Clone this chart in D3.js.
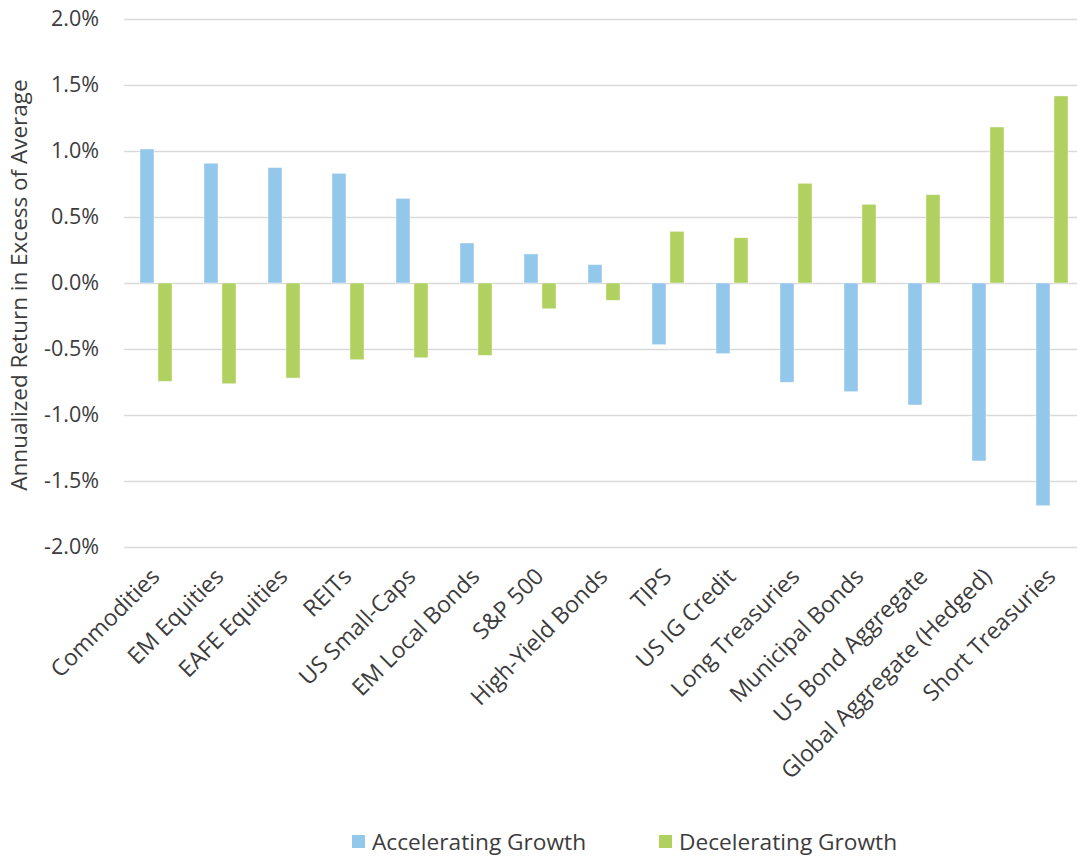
<!DOCTYPE html>
<html>
<head>
<meta charset="utf-8">
<script src="https://cdn.jsdelivr.net/npm/d3@7/dist/d3.min.js"></script>
<style>
  html, body { margin: 0; padding: 0; background: #ffffff; }
  svg { display: block; font-family: "Open Sans", "Noto Sans", sans-serif; }
</style>
</head>
<body>
<svg id="chart" width="1077" height="857"></svg>
<script>
const categories = ["Commodities", "EM Equities", "EAFE Equities", "REITs", "US Small-Caps",
  "EM Local Bonds", "S&P 500", "High-Yield Bonds", "TIPS", "US IG Credit", "Long Treasuries",
  "Municipal Bonds", "US Bond Aggregate", "Global Aggregate (Hedged)", "Short Treasuries"];
const seriesNames = ["Accelerating Growth", "Decelerating Growth"];
const acceleratingGrowth = [1.015, 0.907, 0.874, 0.831, 0.641, 0.303, 0.220, 0.139,
  -0.467, -0.535, -0.752, -0.823, -0.924, -1.348, -1.687];
const deceleratingGrowth = [-0.745, -0.763, -0.720, -0.581, -0.566, -0.548, -0.195, -0.131,
  0.391, 0.343, 0.755, 0.596, 0.669, 1.182, 1.417];
const yTicks = [-2.0, -1.5, -1.0, -0.5, 0.0, 0.5, 1.0, 1.5, 2.0];
const yTitle = "Annualized Return in Excess of Average";

const colors = ["#93c7eb", "#b0d15f"];
const textColor = "#3c3c3c";
const gridColor = "#d9d9d9";

const svg = d3.select("#chart");
const plot = { left: 124, right: 1084, top: 19, bottom: 547 };

const x0 = d3.scaleBand().domain(categories).range([plot.left, plot.right]).padding(0);
const x1 = d3.scaleBand().domain(seriesNames).range([0, x0.bandwidth()])
  .paddingInner(0.222).paddingOuter(0.889);
const y = d3.scaleLinear().domain([-2, 2]).range([plot.bottom, plot.top]);

// gridlines + y labels via axis
const yAxis = d3.axisLeft(y).tickValues(yTicks).tickFormat(d => d.toFixed(1) + "%")
  .tickSize(-(plot.right - plot.left)).tickPadding(25);
const gy = svg.append("g").attr("transform", `translate(${plot.left},0)`).call(yAxis);
gy.select(".domain").remove();
gy.selectAll(".tick line").attr("stroke", gridColor).attr("stroke-width", 1.4);
gy.selectAll(".tick text").attr("fill", textColor).style("font-size", "21.5px")
  .style("font-family", "'Open Sans', sans-serif");

// bars
const data = categories.map((c, i) => ({ cat: c, vals: [acceleratingGrowth[i], deceleratingGrowth[i]] }));
const groups = svg.append("g").selectAll("g").data(data).join("g")
  .attr("transform", d => `translate(${x0(d.cat)},0)`);
groups.selectAll("rect").data(d => d.vals.map((v, k) => ({ key: seriesNames[k], v, k })))
  .join("rect")
  .attr("x", d => x1(d.key))
  .attr("width", x1.bandwidth())
  .attr("y", d => y(Math.max(0, d.v)))
  .attr("height", d => Math.abs(y(d.v) - y(0)))
  .attr("fill", d => colors[d.k])
  .attr("stroke", "#ffffff").attr("stroke-opacity", 0.5).attr("stroke-width", 0.8);

// x labels
svg.append("g").selectAll("text").data(categories).join("text")
  .attr("transform", d => `translate(${x0(d) + x0.bandwidth() / 2 + 5},578) rotate(-45)`)
  .attr("text-anchor", "end")
  .attr("fill", textColor)
  .style("font-size", "23px")
  .text(d => d);

// y title
svg.append("text")
  .attr("transform", "translate(27,285) rotate(-90)")
  .attr("text-anchor", "middle")
  .attr("fill", textColor)
  .style("font-size", "22.5px")
  .text(yTitle);

// legend
const legendX = [352, 659];
const lg = svg.append("g").selectAll("g").data(seriesNames).join("g")
  .attr("transform", (d, i) => `translate(${legendX[i]},835)`);
lg.append("rect").attr("width", 13).attr("height", 13).attr("fill", (d, i) => colors[i]);
lg.append("text").attr("x", 20).attr("y", 15)
  .attr("fill", textColor).style("font-size", "22.7px").text(d => d);
</script>
</body>
</html>
